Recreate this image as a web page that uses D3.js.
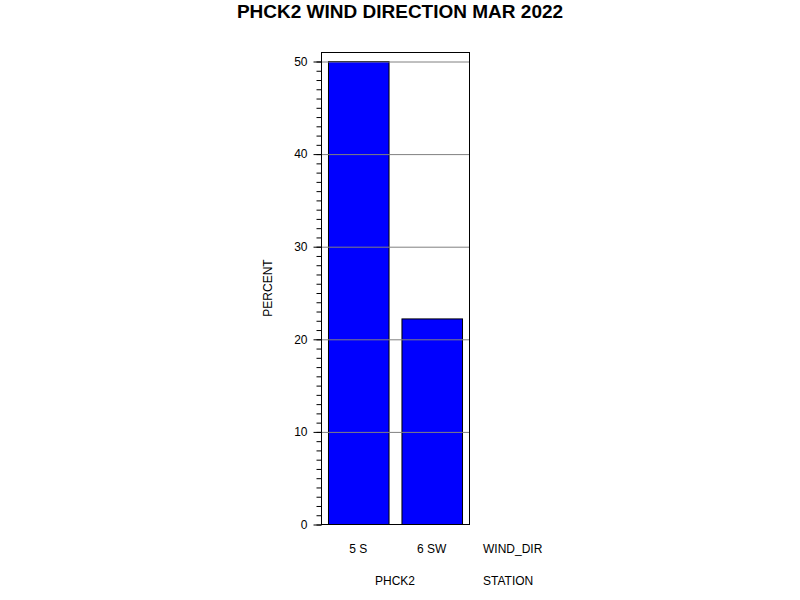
<!DOCTYPE html>
<html>
<head>
<meta charset="utf-8">
<script src="https://cdn.jsdelivr.net/npm/d3@7"></script>
<style>
  body { margin: 0; background: #fff; }
  text { font-family: "Liberation Sans", Arial, sans-serif; fill: #000; }
</style>
</head>
<body>
<div id="chart"></div>
<script>
// Wind direction bar chart

// Data
const categories = ["5 S", "6 SW"];
const percentValues = [50.0, 22.2];
const yTicks = [0, 10, 20, 30, 40, 50];
const stationName = "PHCK2";

const width = 800;
const height = 600;

// Plot frame
const frame = { left: 321, right: 469, top: 52, bottom: 524 };

const svg = d3.select("#chart")
  .append("svg")
  .attr("width", width)
  .attr("height", height);

// Scales
const xScale = d3.scaleBand()
  .domain(categories)
  .range([frame.left, frame.right])
  .paddingInner(0.176)
  .paddingOuter(0.095);

const yScale = d3.scaleLinear()
  .domain([0, 50])
  .range([frame.bottom, 61]);

// Frame background
svg.append("rect")
  .attr("x", frame.left)
  .attr("y", frame.top)
  .attr("width", frame.right - frame.left)
  .attr("height", frame.bottom - frame.top)
  .attr("fill", "#fff");

// Bars
svg.selectAll(".bar")
  .data(categories)
  .enter()
  .append("rect")
  .attr("class", "bar")
  .attr("x", d => xScale(d) + 0.5)
  .attr("y", (d, i) => yScale(percentValues[i]) + 0.5)
  .attr("width", xScale.bandwidth())
  .attr("height", (d, i) => yScale(0) - yScale(percentValues[i]))
  .attr("fill", "#0000ff")
  .attr("stroke", "#000")
  .attr("stroke-width", 1);

// Grid lines (drawn over bars)
svg.append("g")
  .attr("class", "grid")
  .attr("transform", `translate(${frame.left}, 0)`)
  .call(
    d3.axisLeft(yScale)
      .tickValues(yTicks.filter(t => t > 0))
      .tickSize(-(frame.right - frame.left))
      .tickFormat("")
  )
  .call(g => g.select(".domain").remove())
  .call(g => g.selectAll("line")
    .attr("stroke", "#808080")
    .attr("transform", "translate(0,0.5)"));

// Frame border
svg.append("rect")
  .attr("x", frame.left + 0.5)
  .attr("y", frame.top + 0.5)
  .attr("width", frame.right - frame.left)
  .attr("height", frame.bottom - frame.top)
  .attr("fill", "none")
  .attr("stroke", "#000");

// Minor ticks
svg.append("g")
  .attr("transform", `translate(${frame.left + 0.5}, 0.5)`)
  .call(
    d3.axisLeft(yScale)
      .ticks(50)
      .tickSize(5)
      .tickFormat("")
  )
  .call(g => g.select(".domain").remove());

// Major ticks and labels
svg.append("g")
  .attr("transform", `translate(${frame.left + 0.5}, 0.5)`)
  .call(
    d3.axisLeft(yScale)
      .tickValues(yTicks)
      .tickSize(8)
      .tickPadding(6)
  )
  .call(g => g.select(".domain").remove())
  .call(g => g.selectAll("text")
    .style("font-family", "'Liberation Sans', Arial, sans-serif")
    .style("font-size", "12px"));

// Category labels
svg.selectAll(".cat-label")
  .data(categories)
  .enter()
  .append("text")
  .attr("class", "cat-label")
  .attr("x", d => xScale(d) + xScale.bandwidth() / 2)
  .attr("y", 553)
  .attr("text-anchor", "middle")
  .style("font-size", "12px")
  .text(d => d);

svg.append("text")
  .attr("x", 483)
  .attr("y", 553)
  .style("font-size", "12px")
  .text("WIND_DIR");

// Station label
svg.append("text")
  .attr("x", (frame.left + frame.right) / 2)
  .attr("y", 585)
  .attr("text-anchor", "middle")
  .style("font-size", "12px")
  .text(stationName);

svg.append("text")
  .attr("x", 483)
  .attr("y", 585)
  .style("font-size", "12px")
  .text("STATION");

// Y axis label
svg.append("text")
  .attr("transform", "rotate(-90)")
  .attr("x", -288)
  .attr("y", 272)
  .attr("text-anchor", "middle")
  .style("font-size", "12px")
  .text("PERCENT");

// Title
svg.append("text")
  .attr("x", 400)
  .attr("y", 18)
  .attr("text-anchor", "middle")
  .style("font-size", "19px")
  .style("font-weight", "bold")
  .text(`${stationName} WIND DIRECTION MAR 2022`);
</script>
</body>
</html>
